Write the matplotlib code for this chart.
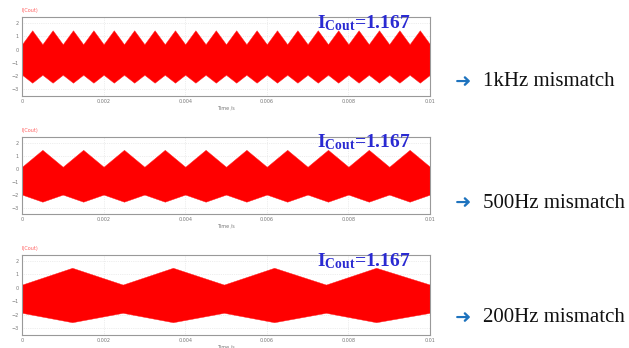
import numpy as np
import matplotlib
matplotlib.use('Agg')
import matplotlib.pyplot as plt

# simulated capacitor current I(Cout), envelope corners in ms
mismatch_labels = ['1kHz mismatch', '500Hz mismatch', '200Hz mismatch']

peak_ms = [
    [0.25, 0.75, 1.25, 1.75, 2.25, 2.75, 3.25, 3.75, 4.25, 4.75,
     5.25, 5.75, 6.25, 6.75, 7.25, 7.75, 8.25, 8.75, 9.25, 9.75],
    [0.5, 1.5, 2.5, 3.5, 4.5, 5.5, 6.5, 7.5, 8.5, 9.5],
    [1.23, 3.70, 6.18, 8.68],
]
valley_ms = [
    [0.0, 0.5, 1.0, 1.5, 2.0, 2.5, 3.0, 3.5, 4.0, 4.5, 5.0,
     5.5, 6.0, 6.5, 7.0, 7.5, 8.0, 8.5, 9.0, 9.5, 10.0],
    [0.0, 1.0, 2.0, 3.0, 4.0, 5.0, 6.0, 7.0, 8.0, 9.0, 10.0],
    [0.0, 2.47, 4.95, 7.45, 10.0],
]

# upper / lower envelope levels at the peaks and valleys
top_at_peak = [1.45, 1.46, 1.5]
top_at_valley = [0.4, 0.15, 0.25]
bottom_at_peak = [-2.5, -2.55, -2.55]
bottom_at_valley = [-1.9, -2.0, -1.85]

i_cout = 1.167

x_ticks = [0, 0.002, 0.004, 0.006, 0.008, 0.01]
x_ticklabels = ['0', '0.002', '0.004', '0.006', '0.008', '0.01']
y_ticks = [2, 1, 0, -1, -2, -3]

plt.rcParams['mathtext.fontset'] = 'custom'
plt.rcParams['mathtext.rm'] = 'Liberation Serif:bold'
plt.rcParams['mathtext.bf'] = 'Liberation Serif:bold'
plt.rcParams['mathtext.it'] = 'Liberation Serif:bold'

fig = plt.figure(figsize=(6.29, 3.48), dpi=100)

W, H = 629.0, 348.0
# (top, bottom) of each panel in pixels
panel_px = [(17, 96), (137, 214), (255, 335)]
label_y_px = [82, 203, 318]

for i in range(3):
    top, bot = panel_px[i]
    ax = fig.add_axes([22 / W, 1 - bot / H, 408 / W, (bot - top) / H])

    pts = [(t / 1000.0, 1) for t in peak_ms[i]] + [(t / 1000.0, 0) for t in valley_ms[i]]
    pts.sort()
    t = np.array([p[0] for p in pts])
    is_peak = np.array([p[1] for p in pts]) == 1
    upper = np.where(is_peak, top_at_peak[i], top_at_valley[i])
    lower = np.where(is_peak, bottom_at_peak[i], bottom_at_valley[i])

    ax.fill_between(t, lower, upper, color='#ff0000', linewidth=0.3, edgecolor='#ff2020')

    ax.set_xlim(0, 0.01)
    ax.set_ylim(-3.5, 2.45)
    ax.set_xticks(x_ticks)
    ax.set_xticklabels(x_ticklabels)
    ax.set_yticks(y_ticks)
    ax.tick_params(length=0, labelsize=3.5, labelcolor='#777777', pad=2.5)
    ax.grid(True, color='#dddddd', linewidth=0.5, linestyle=':')
    ax.set_axisbelow(True)
    for s in ax.spines.values():
        s.set_color('#999999')
        s.set_linewidth(0.8)

    ax.set_xlabel('Time /s', fontsize=3.5, color='#777777', labelpad=0.5)
    ax.text(0.0, 1.05, 'I(Cout)', transform=ax.transAxes, fontsize=3.5,
            color='#ff6060', ha='left', va='bottom')

    ax.text(0.951, 0.86, r'$\mathbf{I_{Cout}}$' + f'={i_cout:.3f}',
            transform=ax.transAxes, ha='right', va='baseline', fontsize=14,
            color='#2a2ad2', family='Liberation Serif', fontweight='bold',
            zorder=5)

    yc = 1 - label_y_px[i] / H
    fig.text(455 / W, yc, '\u279c', fontsize=14, color='#1e73be',
             family='DejaVu Sans', ha='left', va='center')
    fig.text(483 / W, yc, mismatch_labels[i], fontsize=15, color='#111111',
             family='Liberation Serif', ha='left', va='center')

fig.savefig('out.png', dpi=100)
